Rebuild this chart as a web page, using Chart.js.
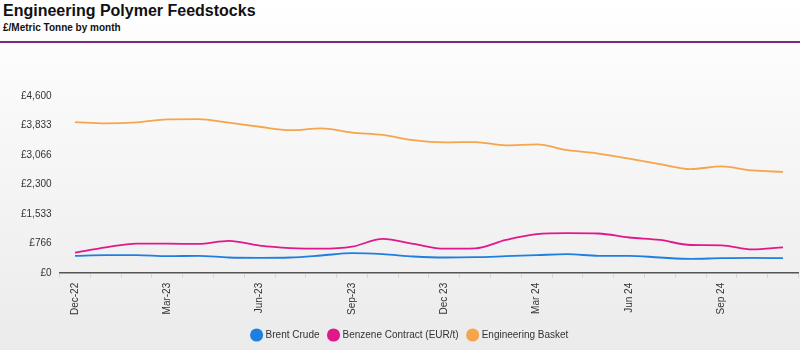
<!DOCTYPE html>
<html>
<head>
<meta charset="utf-8">
<script src="https://cdn.jsdelivr.net/npm/chart.js@4"></script>
<style>
  html, body { margin: 0; padding: 0; }
  body {
    width: 800px; height: 350px; overflow: hidden; position: relative;
    background: linear-gradient(#ffffff, #ebebeb);
    font-family: "Liberation Sans", Arial, sans-serif;
  }
  .title { position: absolute; left: 3px; top: 2px; font-size: 16px; font-weight: bold; color: #111; }
  .sub { position: absolute; left: 3px; top: 22px; font-size: 10px; font-weight: bold; color: #111; }
  .rule { position: absolute; left: 0; top: 41px; width: 800px; height: 2px; background: #7a2a82; }
  .wrap { position: absolute; left: 0; top: 45px; width: 800px; height: 305px; }
</style>
</head>
<body>
<div class="title">Engineering Polymer Feedstocks</div>
<div class="sub">£/Metric Tonne by month</div>
<div class="rule"></div>
<div class="wrap"><canvas id="c" width="800" height="305"></canvas></div>
<script>
const months = ['Dec-22','Jan-23','Feb-23','Mar-23','Apr-23','May-23','Jun-23','Jul-23','Aug-23','Sep-23','Oct-23','Nov-23',
  'Dec 23','Jan 24','Feb 24','Mar 24','Apr 24','May 24','Jun 24','Jul 24','Aug 24','Sep 24','Oct 24','Nov 24'];
const brentCrude = [441, 458, 458, 431, 441, 397, 388, 397, 449, 510, 484, 423, 397, 405, 431, 458, 484, 441, 441, 397, 362, 379, 388, 379];
const benzeneContract = [521, 661, 758, 758, 749, 828, 705, 643, 626, 679, 881, 750, 626, 635, 855, 1005, 1031, 1022, 917, 855, 722, 714, 608, 661];
const engineeringBasket = [3921, 3887, 3913, 3992, 4000, 3905, 3800, 3710, 3755, 3649, 3588, 3450, 3393, 3402, 3314, 3340, 3191, 3102, 2970, 2829, 2697, 2768, 2662, 2626];
const yTickLabels = ['£0','£766','£1,533','£2,300','£3,066','£3,833','£4,600'];
const yMax = 4600;

function line(label, data, color) {
  return { label, data, borderColor: color, backgroundColor: color, borderWidth: 1.8,
    pointRadius: 0, tension: 0.4, cubicInterpolationMode: 'monotone', fill: false };
}

new Chart(document.getElementById('c'), {
  type: 'line',
  data: {
    labels: months,
    datasets: [
      line('Brent Crude', brentCrude, '#1f7fe0'),
      line('Benzene Contract (EUR/t)', benzeneContract, '#e0188c'),
      line('Engineering Basket', engineeringBasket, '#f5a54c'),
    ],
  },
  options: {
    responsive: false,
    animation: false,
    layout: { padding: { top: 51, left: 21, right: 0, bottom: 0 } },
    plugins: {
      legend: {
        position: 'bottom',
        labels: { usePointStyle: true, pointStyle: 'circle', boxWidth: 8, boxHeight: 8, padding: 10,
          color: '#333', font: { size: 10, family: 'Liberation Sans' } },
      },
      tooltip: { enabled: false },
    },
    scales: {
      x: {
        offset: true,
        grid: { offset: true, drawOnChartArea: false, drawTicks: true, tickLength: 5, color: '#d8d8d8' },
        border: { display: true, color: '#555', width: 1.5 },
        ticks: {
          autoSkip: false, maxRotation: 90, minRotation: 90, color: '#333', padding: 5,
          font: { size: 10, family: 'Liberation Sans' },
          callback: (v, i) => (i % 3 === 0 ? months[i] : ''),
        },
      },
      y: {
        min: 0, max: yMax,
        grid: { display: false },
        border: { display: false },
        ticks: {
          stepSize: yMax / 6, color: '#333', padding: 0,
          font: { size: 10, family: 'Liberation Sans' },
          callback: (v, i) => yTickLabels[i],
        },
      },
    },
  },
});
</script>
</body>
</html>
